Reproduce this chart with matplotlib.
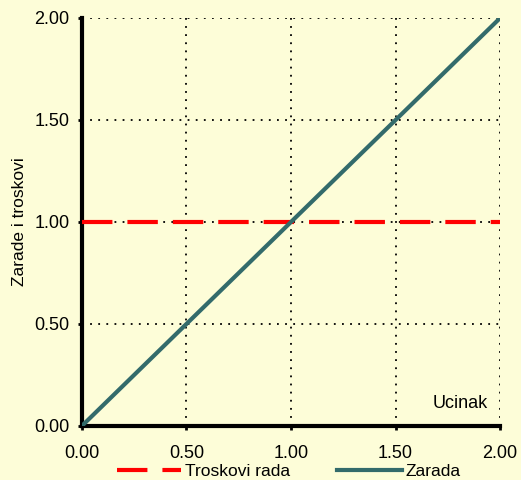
import matplotlib
matplotlib.use("Agg")
import matplotlib.pyplot as plt

x_vals = [0.0, 2.0]
zarada = [0.0, 2.0]
troskovi = [1.0, 1.0]
ticks = [0.0, 0.5, 1.0, 1.5, 2.0]
tick_labels = ["0.00", "0.50", "1.00", "1.50", "2.00"]

plt.rcParams['font.family'] = ['Liberation Sans', 'DejaVu Sans']
bg = '#FDFDD8'
fig = plt.figure(figsize=(5.21, 4.8), dpi=100, facecolor=bg)
ax = fig.add_axes([0.157, 0.1125, 0.803, 0.85])
ax.set_facecolor(bg)

ax.plot(x_vals, troskovi, color='#FF0000', lw=3, linestyle=(0, (7.3, 3.6)), label='Troskovi rada', zorder=3)
ax.plot(x_vals, zarada, color='#336B6B', lw=3, label='Zarada', zorder=4)

ax.set_xlim(0, 2)
ax.set_ylim(0, 2)
ax.set_xticks(ticks)
ax.set_xticklabels(tick_labels)
ax.set_yticks(ticks)
ax.set_yticklabels(tick_labels)
ax.grid(True, color='black', linestyle=(0, (1, 3.5)), lw=1.3)
for s in ['top', 'right']:
    ax.spines[s].set_visible(False)
for s in ['left', 'bottom']:
    ax.spines[s].set_linewidth(3)
    ax.spines[s].set_color('black')
ax.tick_params(axis='both', direction='out', length=3, width=2, labelsize=13)
ax.tick_params(axis='x', pad=11)
ax.tick_params(axis='y', pad=6)
ax.set_ylabel('Zarade i troskovi', fontsize=12.5, labelpad=5)
ax.text(1.81, 0.11, 'Ucinak', fontsize=13, ha='center', va='center')
leg = ax.legend(loc='upper center', bbox_to_anchor=(0.495, -0.072), ncol=2, frameon=False,
                fontsize=12.5, handlelength=3.7, columnspacing=2.7, handletextpad=0.25,
                borderpad=0.0)
fig.savefig('out.png', dpi=100, facecolor=bg)
